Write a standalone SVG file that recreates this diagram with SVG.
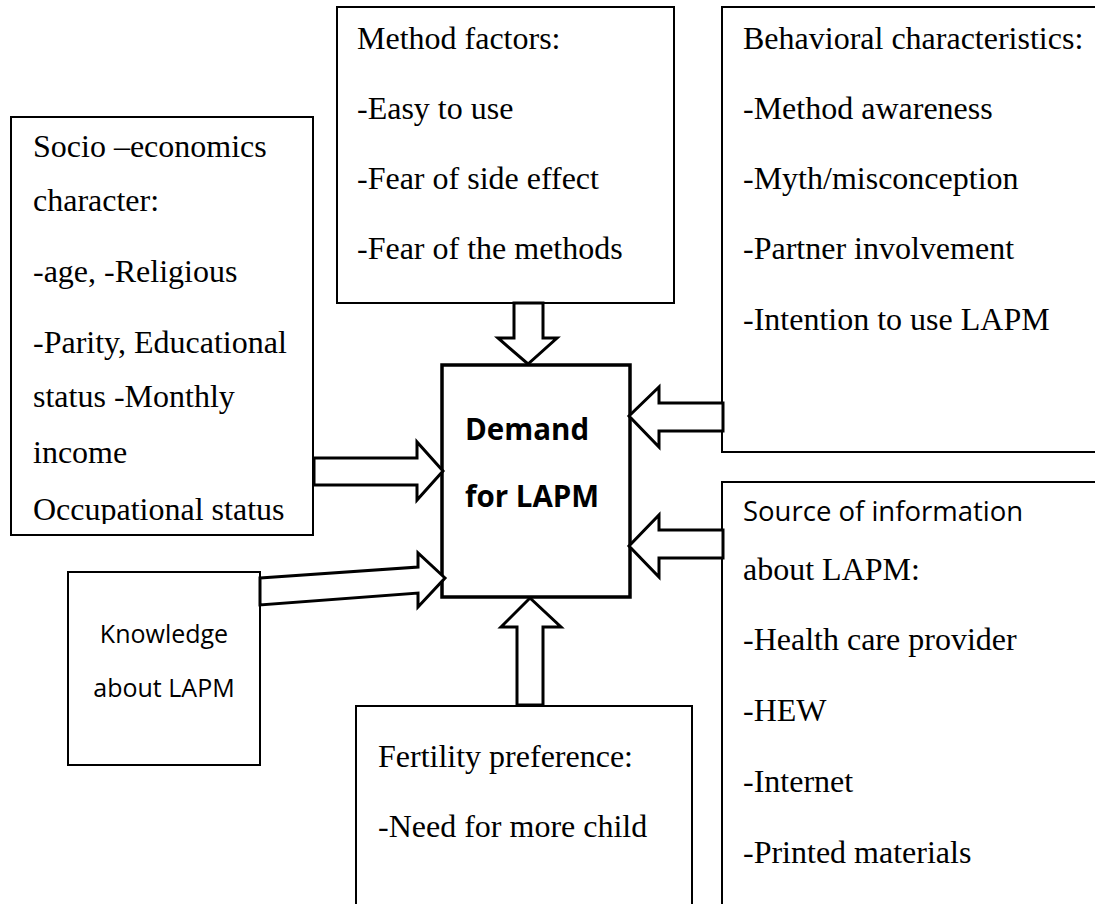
<svg xmlns="http://www.w3.org/2000/svg" width="1095" height="904" viewBox="0 0 1095 904">
<defs>
<style>
.box{fill:#fff;stroke:#000;stroke-width:2}
.main{fill:#fff;stroke:#000;stroke-width:3.5}
.arr{fill:#fff;stroke:#000;stroke-width:3;stroke-linejoin:miter}
.tr{font-family:"Liberation Serif","Times New Roman",serif;font-size:32px;fill:#000}
.sans{font-family:"Open Sans","Noto Sans",sans-serif;fill:#000}
</style>
<clipPath id="socioClip"><rect x="11" y="117" width="302" height="407"/></clipPath>
</defs>
<rect width="1095" height="904" fill="#fff"/>

<g id="socio">
<rect class="box" x="11" y="117" width="302" height="418"/>
<g clip-path="url(#socioClip)">
<text class="tr" x="33" y="157">Socio –economics</text>
<text class="tr" x="33" y="211">character:</text>
<text class="tr" x="33" y="282">-age, -Religious</text>
<text class="tr" x="33" y="353">-Parity, Educational</text>
<text class="tr" x="33" y="407">status -Monthly</text>
<text class="tr" x="33" y="463">income</text>
<text class="tr" x="33" y="520">Occupational status</text>
</g>
</g>

<g id="method">
<rect class="box" x="337" y="7" width="337" height="296"/>
<text class="tr" x="357" y="49">Method factors:</text>
<text class="tr" x="357" y="119">-Easy to use</text>
<text class="tr" x="357" y="189">-Fear of side effect</text>
<text class="tr" x="357" y="259">-Fear of the methods</text>
</g>

<g id="behavioral">
<rect class="box" x="722" y="7" width="390" height="445"/>
<text class="tr" x="743" y="49">Behavioral characteristics:</text>
<text class="tr" x="743" y="119">-Method awareness</text>
<text class="tr" x="743" y="189">-Myth/misconception</text>
<text class="tr" x="743" y="259">-Partner involvement</text>
<text class="tr" x="743" y="330">-Intention to use LAPM</text>
</g>

<g id="source">
<rect class="box" x="722" y="482" width="390" height="440"/>
<text class="sans" x="743" y="521" font-size="27.5">Source of information</text>
<text class="tr" x="743" y="580">about LAPM:</text>
<text class="tr" x="743" y="650">-Health care provider</text>
<text class="tr" x="743" y="721">-HEW</text>
<text class="tr" x="743" y="792">-Internet</text>
<text class="tr" x="743" y="863">-Printed materials</text>
</g>

<g id="knowledge">
<rect class="box" x="68" y="572" width="192" height="193"/>
<text class="sans" x="164" y="643" font-size="25" text-anchor="middle">Knowledge</text>
<text class="sans" x="164" y="697" font-size="25" text-anchor="middle">about LAPM</text>
</g>

<g id="fertility">
<rect class="box" x="356" y="706" width="336" height="220"/>
<text class="tr" x="378" y="767">Fertility preference:</text>
<text class="tr" x="378" y="837">-Need for more child</text>
</g>

<g id="demand">
<rect class="main" x="442" y="365" width="188" height="232"/>
<text class="sans" x="465" y="440" font-size="29.5" font-weight="bold">Demand</text>
<text class="sans" x="465" y="507" font-size="29.5" font-weight="bold">for LAPM</text>
</g>

<g id="connectors">
<polygon class="arr" points="514,303 543,303 543,338 557,338 528,364 498,338 514,338"/>
<polygon class="arr" points="314,458 417,458 417,442 443,471 417,500 417,485 314,485"/>
<polygon class="arr" points="260,578 418,567 418,553 445,578 418,607 418,593 260,605"/>
<polygon class="arr" points="723,403 659,403 659,387 629,416 659,447 659,431 723,431"/>
<polygon class="arr" points="723,530 659,530 659,515 629,546 659,577 659,558 723,558"/>
<polygon class="arr" points="517,705 517,627 501,627 530,598 561,627 543,627 543,705"/>
</g>
</svg>
